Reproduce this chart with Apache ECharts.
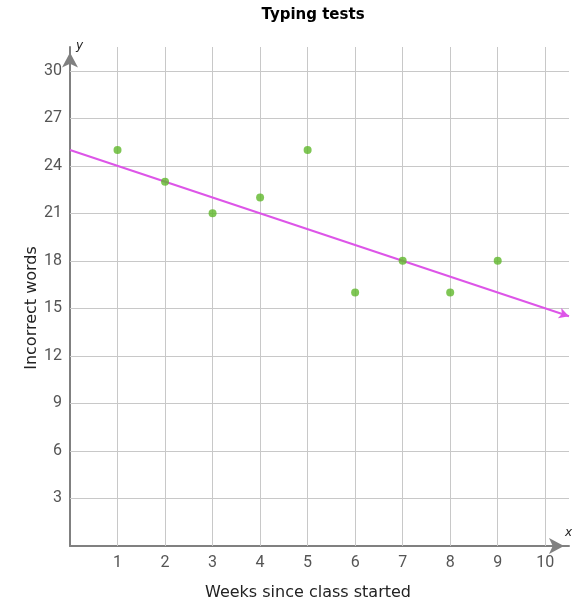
<!DOCTYPE html>
<html lang="en">
<head>
<meta charset="UTF-8">
<title>Typing tests</title>
<script src="https://cdn.jsdelivr.net/npm/echarts@6/dist/echarts.min.js"></script>
<style>
  html, body { margin: 0; padding: 0; background: #fff; }
</style>
</head>
<body>
<div id="chart" style="width:577px;height:601px;"></div>
<script>
// data
var weeks = [1, 2, 3, 4, 5, 6, 7, 8, 9];
var errors = [25, 23, 21, 22, 25, 16, 18, 16, 18];
// trend line y = 25 - x, drawn from x=0 to the arrow tip
var trendX = [0, 10.5];
var trendY = [25, 14.5];
var xTicks = [1, 2, 3, 4, 5, 6, 7, 8, 9, 10];
var yTicks = [3, 6, 9, 12, 15, 18, 21, 24, 27, 30];

var chart = echarts.init(document.getElementById('chart'));

var points = weeks.map(function (w, i) { return [w, errors[i]]; });
var gridLines = xTicks.map(function (v) { return { xAxis: v }; })
  .concat(yTicks.map(function (v) { return { yAxis: v }; }));

var tickFont = { color: '#555', fontSize: 16, fontFamily: 'Roboto' };

chart.setOption({
  animation: false,
  grid: { left: 70, right: 8, top: 47, bottom: 55 },
  title: {
    text: 'Typing tests',
    left: 308, top: 3, textAlign: 'center',
    textStyle: { fontFamily: 'DejaVu Sans', fontSize: 15, fontWeight: 'bold', color: '#000' }
  },
  xAxis: {
    type: 'value', min: 0, max: 10.5, interval: 1,
    axisLine: {
      onZero: false,
      lineStyle: { color: '#808080', width: 2 },
      symbol: ['none', 'arrow'], symbolSize: [12, 15], symbolOffset: [0, -5]
    },
    axisTick: { show: false },
    splitLine: { show: false },
    axisLabel: Object.assign({
      margin: 9,
      formatter: function (v) { return (v >= 1 && v <= 10 && v % 1 === 0) ? String(v) : ''; }
    }, tickFont)
  },
  yAxis: {
    type: 'value', min: 0, max: 31.5, interval: 3,
    axisLine: {
      show: true, onZero: false,
      lineStyle: { color: '#808080', width: 2 },
      symbol: ['none', 'arrow'], symbolSize: [12, 15], symbolOffset: [0, -5.5]
    },
    axisTick: { show: false },
    splitLine: { show: false },
    axisLabel: Object.assign({
      margin: 8,
      formatter: function (v) { return (v >= 3 && v <= 30 && v % 3 === 0) ? String(v) : ''; }
    }, tickFont)
  },
  graphic: [
    { type: 'text', x: 308, y: 585, z: 10,
      style: { text: 'Weeks since class started', fill: '#222', font: '16px "DejaVu Sans"', textAlign: 'center', textVerticalAlign: 'top' } },
    { type: 'text', x: 24, y: 308, rotation: Math.PI / 2, z: 10,
      style: { text: 'Incorrect words', fill: '#222', font: '16px "DejaVu Sans"', textAlign: 'center', textVerticalAlign: 'top' } },
    { type: 'text', x: 565, y: 527, z: 10,
      style: { text: 'x', fill: '#222', font: 'italic 12px "DejaVu Sans"' } },
    { type: 'text', x: 76, y: 40, z: 10,
      style: { text: 'y', fill: '#222', font: 'italic 12px "DejaVu Sans"' } }
  ],
  series: [
    {
      type: 'scatter',
      data: [],
      silent: true,
      markLine: {
        silent: true,
        symbol: 'none',
        label: { show: false },
        lineStyle: { color: '#c8c8c8', width: 1, type: 'solid' },
        data: gridLines,
        z: 1
      }
    },
    {
      type: 'scatter',
      data: points,
      symbolSize: 8,
      itemStyle: { color: '#5fb82b' },
      z: 5,
      markLine: {
        silent: true,
        symbol: ['none', 'arrow'],
        symbolSize: [8, 10],
        label: { show: false },
        lineStyle: { color: '#dd55e8', width: 2, type: 'solid' },
        data: [[
          { coord: [trendX[0], trendY[0]] },
          { coord: [trendX[1], trendY[1]] }
        ]]
      }
    }
  ]
});
</script>
</body>
</html>
